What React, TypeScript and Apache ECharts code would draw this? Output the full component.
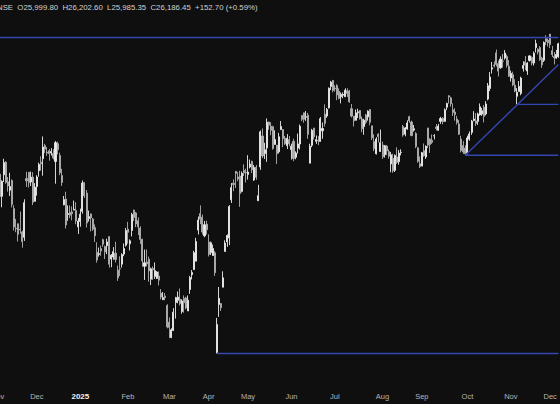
import React, { useEffect, useRef } from 'react';
import * as echarts from 'echarts';

// rows: [day, open, high, low, close]
type Row = [number, number, number, number, number];

const nov24: Row[] = [
  [1, 24302, 24368, 24280, 24304], [4, 24315, 24316, 23816, 23995], [5, 24000, 24229, 23842, 24213],
  [6, 24308, 24537, 24204, 24484], [7, 24489, 24503, 24179, 24199], [8, 24207, 24276, 24066, 24148],
  [11, 24087, 24336, 24004, 24141], [12, 24225, 24242, 23839, 23883], [13, 23822, 23873, 23509, 23559],
  [14, 23542, 23675, 23484, 23532], [18, 23605, 23606, 23350, 23453], [19, 23529, 23780, 23464, 23518],
  [21, 23488, 23507, 23263, 23349], [22, 23411, 23956, 23359, 23907], [25, 24253, 24351, 24134, 24221],
  [26, 24343, 24343, 24125, 24194], [27, 24204, 24354, 24146, 24274], [28, 24274, 24345, 23873, 23914],
  [29, 23927, 24188, 23927, 24131],
];
const dec24: Row[] = [
  [2, 24140, 24301, 24008, 24276], [3, 24367, 24481, 24280, 24457], [4, 24488, 24573, 24366, 24467],
  [5, 24539, 24857, 24295, 24708], [6, 24729, 24751, 24620, 24677], [9, 24633, 24705, 24580, 24619],
  [10, 24652, 24677, 24510, 24610], [11, 24620, 24691, 24583, 24641], [12, 24613, 24675, 24528, 24548],
  [13, 24499, 24792, 24180, 24768], [16, 24754, 24782, 24601, 24668], [17, 24585, 24625, 24303, 24336],
  [18, 24297, 24394, 24149, 24198], [19, 23877, 24004, 23870, 23952], [20, 23960, 24065, 23537, 23588],
  [23, 23738, 23869, 23647, 23753], [24, 23770, 23868, 23685, 23728], [26, 23775, 23854, 23654, 23750],
  [27, 23801, 23938, 23800, 23813], [30, 23796, 23915, 23599, 23645], [31, 23561, 23689, 23460, 23645],
];
const jan25: Row[] = [
  [1, 23637, 23822, 23562, 23743], [2, 23783, 24226, 23751, 24189], [3, 24196, 24196, 23976, 24005],
  [6, 24045, 24089, 23551, 23616], [7, 23679, 23795, 23637, 23708], [8, 23746, 23751, 23496, 23689],
  [9, 23674, 23689, 23503, 23527], [10, 23551, 23596, 23344, 23432], [13, 23195, 23340, 23047, 23086],
  [14, 23165, 23264, 23134, 23176], [15, 23250, 23293, 23146, 23213], [16, 23377, 23391, 23273, 23312],
  [17, 23277, 23292, 23100, 23203], [20, 23290, 23391, 23170, 23345], [21, 23421, 23426, 22976, 23025],
  [22, 23099, 23169, 22981, 23155], [23, 23128, 23270, 23090, 23205], [24, 23183, 23348, 23050, 23092],
  [27, 22941, 23007, 22786, 22829], [28, 22960, 23138, 22857, 22957], [29, 23026, 23183, 22977, 23163],
  [30, 23170, 23322, 23140, 23249], [31, 23296, 23546, 23278, 23508],
];
const feb25: Row[] = [
  [1, 23528, 23632, 23318, 23482], [3, 23319, 23381, 23222, 23361], [4, 23509, 23762, 23423, 23739],
  [5, 23801, 23807, 23644, 23696], [6, 23761, 23773, 23557, 23603], [7, 23649, 23695, 23443, 23560],
  [10, 23543, 23569, 23316, 23381], [11, 23383, 23390, 22987, 23072], [12, 22996, 23236, 22799, 23045],
  [13, 23056, 23236, 22993, 23031], [14, 23097, 23134, 22774, 22929], [17, 22810, 22975, 22725, 22959],
  [18, 22963, 22993, 22801, 22945], [19, 22849, 23050, 22814, 22933], [20, 22821, 22924, 22812, 22913],
  [21, 22857, 22922, 22721, 22796], [24, 22609, 22668, 22519, 22553], [25, 22516, 22626, 22513, 22547],
  [27, 22568, 22613, 22508, 22545], [28, 22433, 22450, 22105, 22125],
];
const mar25: Row[] = [
  [3, 22194, 22262, 21965, 22119], [4, 21974, 22106, 21964, 22083], [5, 22073, 22395, 22068, 22337],
  [6, 22476, 22557, 22245, 22545], [7, 22508, 22634, 22464, 22553], [10, 22522, 22677, 22433, 22460],
  [11, 22346, 22522, 22315, 22498], [12, 22536, 22577, 22329, 22471], [13, 22541, 22558, 22378, 22397],
  [17, 22354, 22577, 22353, 22509], [18, 22662, 22857, 22599, 22834], [19, 22875, 22941, 22807, 22907],
  [20, 22950, 23216, 22940, 23191], [21, 23068, 23403, 23068, 23350], [24, 23515, 23709, 23451, 23658],
  [25, 23751, 23869, 23601, 23669], [26, 23700, 23737, 23452, 23487], [27, 23433, 23646, 23412, 23592],
  [28, 23600, 23649, 23450, 23519],
];
const apr25: Row[] = [
  [1, 23342, 23453, 23136, 23165], [2, 23192, 23350, 23158, 23332], [3, 23150, 23306, 23145, 23250],
  [4, 23190, 23214, 22857, 22904], [7, 21758, 22254, 21744, 22161], [8, 22446, 22698, 22270, 22536],
  [9, 22460, 22468, 22353, 22399], [11, 22695, 22923, 22696, 22829], [15, 23208, 23368, 23207, 23328],
  [16, 23345, 23452, 23273, 23437], [17, 23401, 23873, 23299, 23851], [21, 23949, 24189, 23903, 24125],
  [22, 24185, 24242, 24072, 24167], [23, 24357, 24359, 24119, 24329], [24, 24277, 24347, 24216, 24247],
  [25, 24290, 24365, 23848, 24039], [28, 24070, 24355, 24055, 24328], [29, 24370, 24457, 24290, 24336],
  [30, 24342, 24396, 24198, 24334],
];
const may25: Row[] = [
  [2, 24311, 24589, 24238, 24346], [5, 24420, 24527, 24400, 24461], [6, 24500, 24510, 24331, 24380],
  [7, 24233, 24449, 24220, 24414], [8, 24416, 24447, 24237, 24273], [9, 23935, 24164, 23935, 24008],
  [12, 24420, 24944, 24379, 24924], [13, 24864, 24973, 24547, 24578], [14, 24614, 24767, 24535, 24666],
  [15, 24694, 25116, 24494, 25062], [16, 25065, 25070, 24953, 25019], [19, 25005, 25062, 24875, 24945],
  [20, 24997, 25011, 24669, 24683], [21, 24744, 24946, 24739, 24813], [22, 24733, 24737, 24462, 24609],
  [23, 24639, 24909, 24614, 24853], [26, 24956, 25079, 24951, 25001], [27, 24957, 24957, 24704, 24826],
  [28, 24832, 24864, 24737, 24752], [29, 24726, 24892, 24677, 24833], [30, 24812, 24863, 24717, 24751],
];
const jun25: Row[] = [
  [2, 24669, 24754, 24526, 24716], [3, 24787, 24826, 24502, 24542], [4, 24560, 24644, 24530, 24620],
  [5, 24691, 24899, 24613, 24751], [6, 24749, 25029, 24671, 25003], [9, 25160, 25160, 25077, 25103],
  [10, 25196, 25199, 25055, 25104], [11, 25134, 25222, 25081, 25141], [12, 25164, 25196, 24825, 24888],
  [13, 24474, 24754, 24473, 24718], [16, 24732, 24967, 24704, 24946], [17, 24977, 24982, 24813, 24853],
  [18, 24788, 24872, 24751, 24812], [19, 24803, 24863, 24733, 24793], [20, 24787, 25137, 24783, 25112],
  [23, 24939, 25058, 24825, 24972], [24, 25179, 25318, 24999, 25045], [25, 25151, 25266, 25125, 25245],
  [26, 25268, 25561, 25259, 25549], [27, 25576, 25654, 25523, 25637], [30, 25661, 25669, 25490, 25517],
];
const jul25: Row[] = [
  [1, 25551, 25593, 25501, 25542], [2, 25588, 25608, 25378, 25453], [3, 25505, 25548, 25390, 25405],
  [4, 25428, 25489, 25332, 25461], [7, 25450, 25489, 25407, 25461], [8, 25428, 25549, 25425, 25523],
  [9, 25514, 25548, 25425, 25476], [10, 25511, 25525, 25340, 25355], [11, 25256, 25323, 25129, 25150],
  [14, 25149, 25151, 25001, 25082], [15, 25089, 25245, 25089, 25196], [16, 25196, 25255, 25121, 25212],
  [17, 25230, 25238, 25101, 25112], [18, 25108, 25145, 24918, 24968], [21, 24999, 25111, 24882, 25091],
  [22, 25166, 25182, 25035, 25061], [23, 25139, 25233, 25085, 25220], [24, 25243, 25247, 25018, 25062],
  [25, 25010, 25011, 24807, 24837], [28, 24782, 24889, 24647, 24681], [29, 24609, 24847, 24599, 24821],
  [30, 24891, 24903, 24772, 24855], [31, 24642, 24956, 24635, 24768],
];
const aug25: Row[] = [
  [1, 24735, 24784, 24535, 24565], [4, 24596, 24736, 24554, 24723], [5, 24720, 24734, 24590, 24650],
  [6, 24641, 24671, 24539, 24574], [7, 24464, 24634, 24344, 24596], [8, 24544, 24609, 24337, 24363],
  [11, 24372, 24600, 24348, 24585], [12, 24563, 24702, 24465, 24487], [13, 24496, 24664, 24453, 24619],
  [14, 24627, 24674, 24586, 24631], [18, 25002, 25023, 24854, 24877], [19, 24891, 24992, 24860, 24980],
  [20, 24965, 25089, 24955, 25051], [21, 25142, 25154, 25055, 25084], [22, 25065, 25085, 24860, 24870],
  [25, 24949, 25022, 24927, 24968], [26, 24899, 24919, 24689, 24712], [28, 24695, 24702, 24481, 24501],
  [29, 24467, 24572, 24404, 24427],
];
const sep25: Row[] = [
  [1, 24432, 24636, 24432, 24625], [2, 24654, 24757, 24567, 24580], [3, 24563, 24730, 24535, 24716],
  [4, 24980, 24980, 24691, 24734], [5, 24818, 24832, 24621, 24741], [8, 24802, 24885, 24751, 24773],
  [9, 24864, 24891, 24815, 24869], [10, 24992, 25036, 24944, 24973], [11, 24946, 25037, 24941, 25005],
  [12, 25074, 25139, 25038, 25114], [15, 25118, 25132, 25031, 25069], [16, 25074, 25261, 25071, 25239],
  [17, 25277, 25343, 25236, 25330], [18, 25441, 25448, 25329, 25423], [19, 25411, 25428, 25286, 25327],
  [22, 25239, 25332, 25151, 25202], [23, 25209, 25261, 25084, 25170], [24, 25108, 25152, 25028, 25057],
  [25, 25035, 25093, 24878, 24891], [26, 24818, 24868, 24629, 24655], [29, 24728, 24791, 24606, 24634],
  [30, 24691, 24731, 24588, 24611],
];
const oct25: Row[] = [
  [1, 24621, 24868, 24605, 24836], [3, 24819, 24929, 24795, 24894], [6, 24916, 25095, 24881, 25077],
  [7, 25085, 25220, 25076, 25108], [8, 25080, 25192, 25009, 25046], [9, 25074, 25199, 25024, 25181],
  [10, 25167, 25331, 25156, 25285], [13, 25178, 25267, 25153, 25227], [14, 25277, 25310, 25060, 25146],
  [15, 25181, 25365, 25159, 25324], [16, 25394, 25625, 25376, 25585], [17, 25546, 25781, 25508, 25710],
  [20, 25824, 25926, 25760, 25843], [21, 25883, 25935, 25847, 25868], [23, 26057, 26104, 25862, 25891],
  [24, 25902, 25944, 25718, 25795], [27, 25843, 26006, 25827, 25966], [28, 25939, 26042, 25845, 25936],
  [29, 25982, 26097, 25960, 26054], [30, 26004, 26032, 25845, 25878], [31, 25864, 25953, 25711, 25722],
];
const nov25: Row[] = [
  [3, 25696, 25803, 25645, 25763], [4, 25744, 25787, 25578, 25598], [6, 25593, 25679, 25491, 25510],
  [7, 25433, 25551, 25318, 25492], [10, 25503, 25653, 25503, 25575], [11, 25475, 25715, 25449, 25695],
  [12, 25834, 25935, 25788, 25876], [13, 25929, 26011, 25810, 25880], [14, 25796, 25924, 25741, 25910],
  [17, 25947, 26024, 25932, 26013], [18, 25992, 26005, 25877, 25910], [19, 25911, 26075, 25875, 26052],
  [20, 26133, 26246, 26063, 26192], [21, 26110, 26123, 26034, 26068], [24, 26133, 26154, 25941, 25960],
  [25, 25980, 26001, 25842, 25885], [26, 25950, 26221, 25926, 26205], [27, 26261, 26310, 26166, 26216],
  [28, 26237, 26264, 26147, 26203],
];
const dec25: Row[] = [
  [1, 26326, 26326, 26125, 26176], [2, 26088, 26155, 25998, 26032], [3, 26004, 26068, 25891, 25986],
  [4, 25982, 26100, 25971, 26034], [5, 25999.8, 26202.6, 25985.35, 26186.45],
];

const monthKeys = ['2024-11', '2024-12', '2025-01', '2025-02', '2025-03', '2025-04', '2025-05',
  '2025-06', '2025-07', '2025-08', '2025-09', '2025-10', '2025-11', '2025-12'];
const monthLabels = ['Nov', 'Dec', '2025', 'Feb', 'Mar', 'Apr', 'May', 'Jun', 'Jul', 'Aug', 'Sep', 'Oct', 'Nov', 'Dec'];
const monthRows = [nov24, dec24, jan25, feb25, mar25, apr25, may25, jun25, jul25, aug25, sep25, oct25, nov25, dec25];

// horizontal / trend levels
const athLevel = 26277.35;
const aprLowLevel = 21743.65;
const aprLowDate = '2025-04-07';
const sepLowLevel = 24587.7;
const sepLowDate = '2025-09-30';
const novLowLevel = 25318.35;
const novLowDate = '2025-11-07';
const trendEndLevel = 25890;

const headerText = 'NSE  O25,999.80  H26,202.60  L25,985.35  C26,186.45  +152.70 (+0.59%)';

const FONT = '"Liberation Sans", Arial, sans-serif';

export default function App() {
  const ref = useRef<HTMLDivElement>(null);
  useEffect(() => {
    document.body.style.margin = '0';
    document.body.style.background = '#0f0f0f';
    if (!ref.current) return;
    const chart = echarts.init(ref.current, undefined, { renderer: 'svg' });

    const cats: string[] = [];
    const ohlc: number[][] = [];
    const labelAt = new Map<number, string>();
    monthRows.forEach((rows, mi) => {
      labelAt.set(cats.length, monthLabels[mi]);
      rows.forEach((r) => {
        cats.push(`${monthKeys[mi]}-${String(r[0]).padStart(2, '0')}`);
        ohlc.push([r[1], r[4], r[3], r[2]]);
      });
    });
    const firstDate = cats[0];
    const lastDate = cats[cats.length - 1];
    const lineColor = '#3347b0';

    const levelLine = (pts: [string, number][]) => ({
      type: 'line',
      data: pts,
      showSymbol: false,
      symbol: 'none',
      silent: true,
      z: 3,
      lineStyle: { color: lineColor, width: 1.4, type: 'solid' },
      itemStyle: { color: lineColor },
      emphasis: { disabled: true },
    });

    chart.setOption({
      animation: false,
      backgroundColor: '#0f0f0f',
      grid: { left: -3.5, right: 0.5, top: 0, bottom: 34, containLabel: false, outerBoundsMode: 'none' },
      xAxis: {
        type: 'category',
        data: cats,
        boundaryGap: true,
        axisLine: { show: false, onZero: false },
        axisTick: { show: false },
        splitLine: { show: false },
        axisLabel: {
          interval: (i: number) => labelAt.has(i),
          formatter: (_v: string, i: number) => {
            const t = labelAt.get(i);
            return t === '2025' ? '{y|2025}' : (t ?? '');
          },
          color: '#b4b4b8',
          fontSize: 7.5,
          fontFamily: FONT,
          margin: 22,
          rich: { y: { color: '#f0f0f0', fontWeight: 'bold', fontSize: 8, fontFamily: FONT } },
        },
      },
      yAxis: {
        type: 'value',
        min: 21507.2,
        max: 26815.2,
        show: false,
        splitLine: { show: false },
      },
      graphic: [
        {
          type: 'text',
          x: -3,
          y: 7,
          style: { text: headerText, fill: '#d2d2d2', fontSize: 7.8, fontFamily: FONT, verticalAlign: 'middle' },
        },
      ],
      series: [
        {
          type: 'candlestick',
          data: ohlc,
          barWidth: '75%',
          z: 2,
          itemStyle: {
            color: '#ececec',
            color0: '#b0b0b0',
            borderColor: '#ececec',
            borderColor0: '#b0b0b0',
            borderWidth: 0.9,
          },
        },
        levelLine([[firstDate, athLevel], [lastDate, athLevel]]),
        levelLine([[aprLowDate, aprLowLevel], [lastDate, aprLowLevel]]),
        levelLine([[sepLowDate, sepLowLevel], [lastDate, sepLowLevel]]),
        levelLine([[novLowDate, novLowLevel], [lastDate, novLowLevel]]),
        levelLine([[sepLowDate, sepLowLevel], [lastDate, trendEndLevel]]),
      ],
    });
    return () => chart.dispose();
  }, []);
  return (
    <div
      ref={ref}
      style={{ position: 'fixed', left: 0, top: 0, width: 560, height: 404, background: '#0f0f0f' }}
    />
  );
}
